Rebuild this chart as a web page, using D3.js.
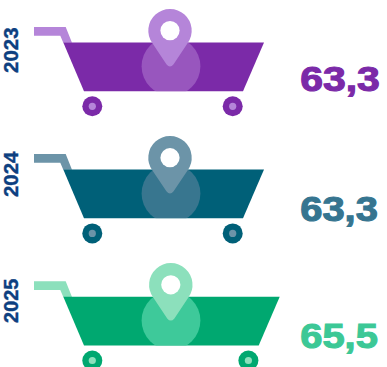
<!DOCTYPE html>
<html>
<head>
<meta charset="utf-8">
<script src="https://cdn.jsdelivr.net/npm/d3@7/dist/d3.min.js"></script>
<style>
html,body{margin:0;padding:0;background:#fff;overflow:hidden}
svg{display:block}
text{font-family:"Liberation Sans",Arial,sans-serif;font-weight:700}
</style>
</head>
<body>
<svg id="chart" width="387" height="367"></svg>
<script>
// Values per year
const years = ["2023", "2024", "2025"];
const values = [63.3, 63.3, 65.5];
const valueLabels = ["63,3", "63,3", "65,5"];

// Colour ramps per year: cart body, pale accent, mid overlay, figure
const bodyColors = ["#7b2aa8", "#006078", "#00a870"];
const accentColors = ["#b585d9", "#6c94a8", "#8ce0bc"];
const overlayColors = ["#9856be", "#38768f", "#3ec99a"];
const figureColors = ["#7b2aa8", "#367590", "#3cc896"];

const svg = d3.select("#chart");

// Each cart's top edge sits on a row; its right edge grows with the value
const rowY = d3.scalePoint().domain(years).range([42.5, 296.7]);
const rightX = d3.scaleLinear().domain([63.3, 65.5]).range([264, 279.7]);

const cartH = 48.7, leftTop = 63.3, leftBottom = 84, taper = 21;
const wheelDy = 63.8, wheelLeft = 92.3, wheelInset = 31.3;

// Label placement per row, relative to the cart's top edge
const yearDy = [7.7, 4.7, 4.1];
const yearStretch = [1, 1, 0.97];
const figureDy = [48.6, 51.5, 50.8];
const figureStretch = [1.17, 1.14, 1.14];

// Map pin outline with the origin at the head centre
function pinPath() {
  const r = 21.7, p = d3.path();
  const a0 = Math.PI * 0.80, a1 = Math.PI * 0.20;
  p.moveTo(r * Math.cos(a0), r * Math.sin(a0));
  p.arc(0, 0, r, a0, a1, false);
  p.lineTo(3.6, 33.6);
  p.quadraticCurveTo(0, 38, -3.6, 33.6);
  p.closePath();
  return p.toString();
}

const rows = years.map((y, i) => ({
  year: y, value: values[i], label: valueLabels[i], i
}));

const defs = svg.append("defs");
const g = svg.selectAll("g.row").data(rows).join("g")
  .attr("class", "row")
  .attr("transform", d => `translate(0,${rowY(d.year)})`);

// Handle
g.append("path")
  .attr("fill", d => accentColors[d.i])
  .attr("d", d3.line()([[34, -15.5], [65.7, -15.5], [72, 0.2], [63.3, 0.2], [60.3, -6.8], [34, -6.8]]) + "Z");

// Basket
const basket = d => d3.line()([
  [leftTop, 0], [rightX(d.value), 0],
  [rightX(d.value) - taper, cartH], [leftBottom, cartH]
]) + "Z";

g.each(function (d) {
  defs.append("clipPath").attr("id", "clip" + d.i)
    .append("path").attr("d", basket(d));
});
g.append("path").attr("d", basket).attr("fill", d => bodyColors[d.i]);

// Overlay disc, cut off by the basket
g.append("circle")
  .attr("clip-path", d => `url(#clip${d.i})`)
  .attr("cx", 171).attr("cy", 23.8).attr("r", 29.4)
  .attr("fill", d => overlayColors[d.i]);

// Pin
const pin = g.append("g")
  .attr("transform", d => `translate(${d.i === 2 ? 170.8 : 170},-11.9)`);
pin.append("path").attr("d", pinPath()).attr("fill", d => accentColors[d.i]);
pin.append("circle").attr("r", 9.6).attr("fill", "#fff");

// Wheels
const wheelX = d => [wheelLeft, rightX(d.value) - wheelInset];
const wheel = g.selectAll("g.wheel")
  .data(d => wheelX(d).map(x => ({ x, i: d.i })))
  .join("g").attr("class", "wheel")
  .attr("transform", d => `translate(${d.x},${wheelDy})`);
wheel.append("circle").attr("r", 10).attr("fill", d => bodyColors[d.i]);
wheel.append("circle").attr("r", 3.6).attr("fill", d => accentColors[d.i]);

// Year labels
g.append("text")
  .attr("transform", d => `translate(18,${yearDy[d.i]}) rotate(-90) scale(${yearStretch[d.i]},1)`)
  .attr("font-size", 20.5)
  .attr("text-anchor", "middle")
  .attr("fill", "#0d4080")
  .attr("stroke", "#0d4080")
  .attr("stroke-width", 0.4)
  .text(d => d.year);

// Value figures, widened and thickened to a heavy display weight
g.append("text")
  .attr("transform", d => `translate(300.2,${figureDy[d.i]}) scale(${figureStretch[d.i]},1)`)
  .attr("font-size", 35)
  .attr("fill", d => figureColors[d.i])
  .attr("stroke", d => figureColors[d.i])
  .attr("stroke-width", 1.1)
  .text(d => d.label);
</script>
</body>
</html>
